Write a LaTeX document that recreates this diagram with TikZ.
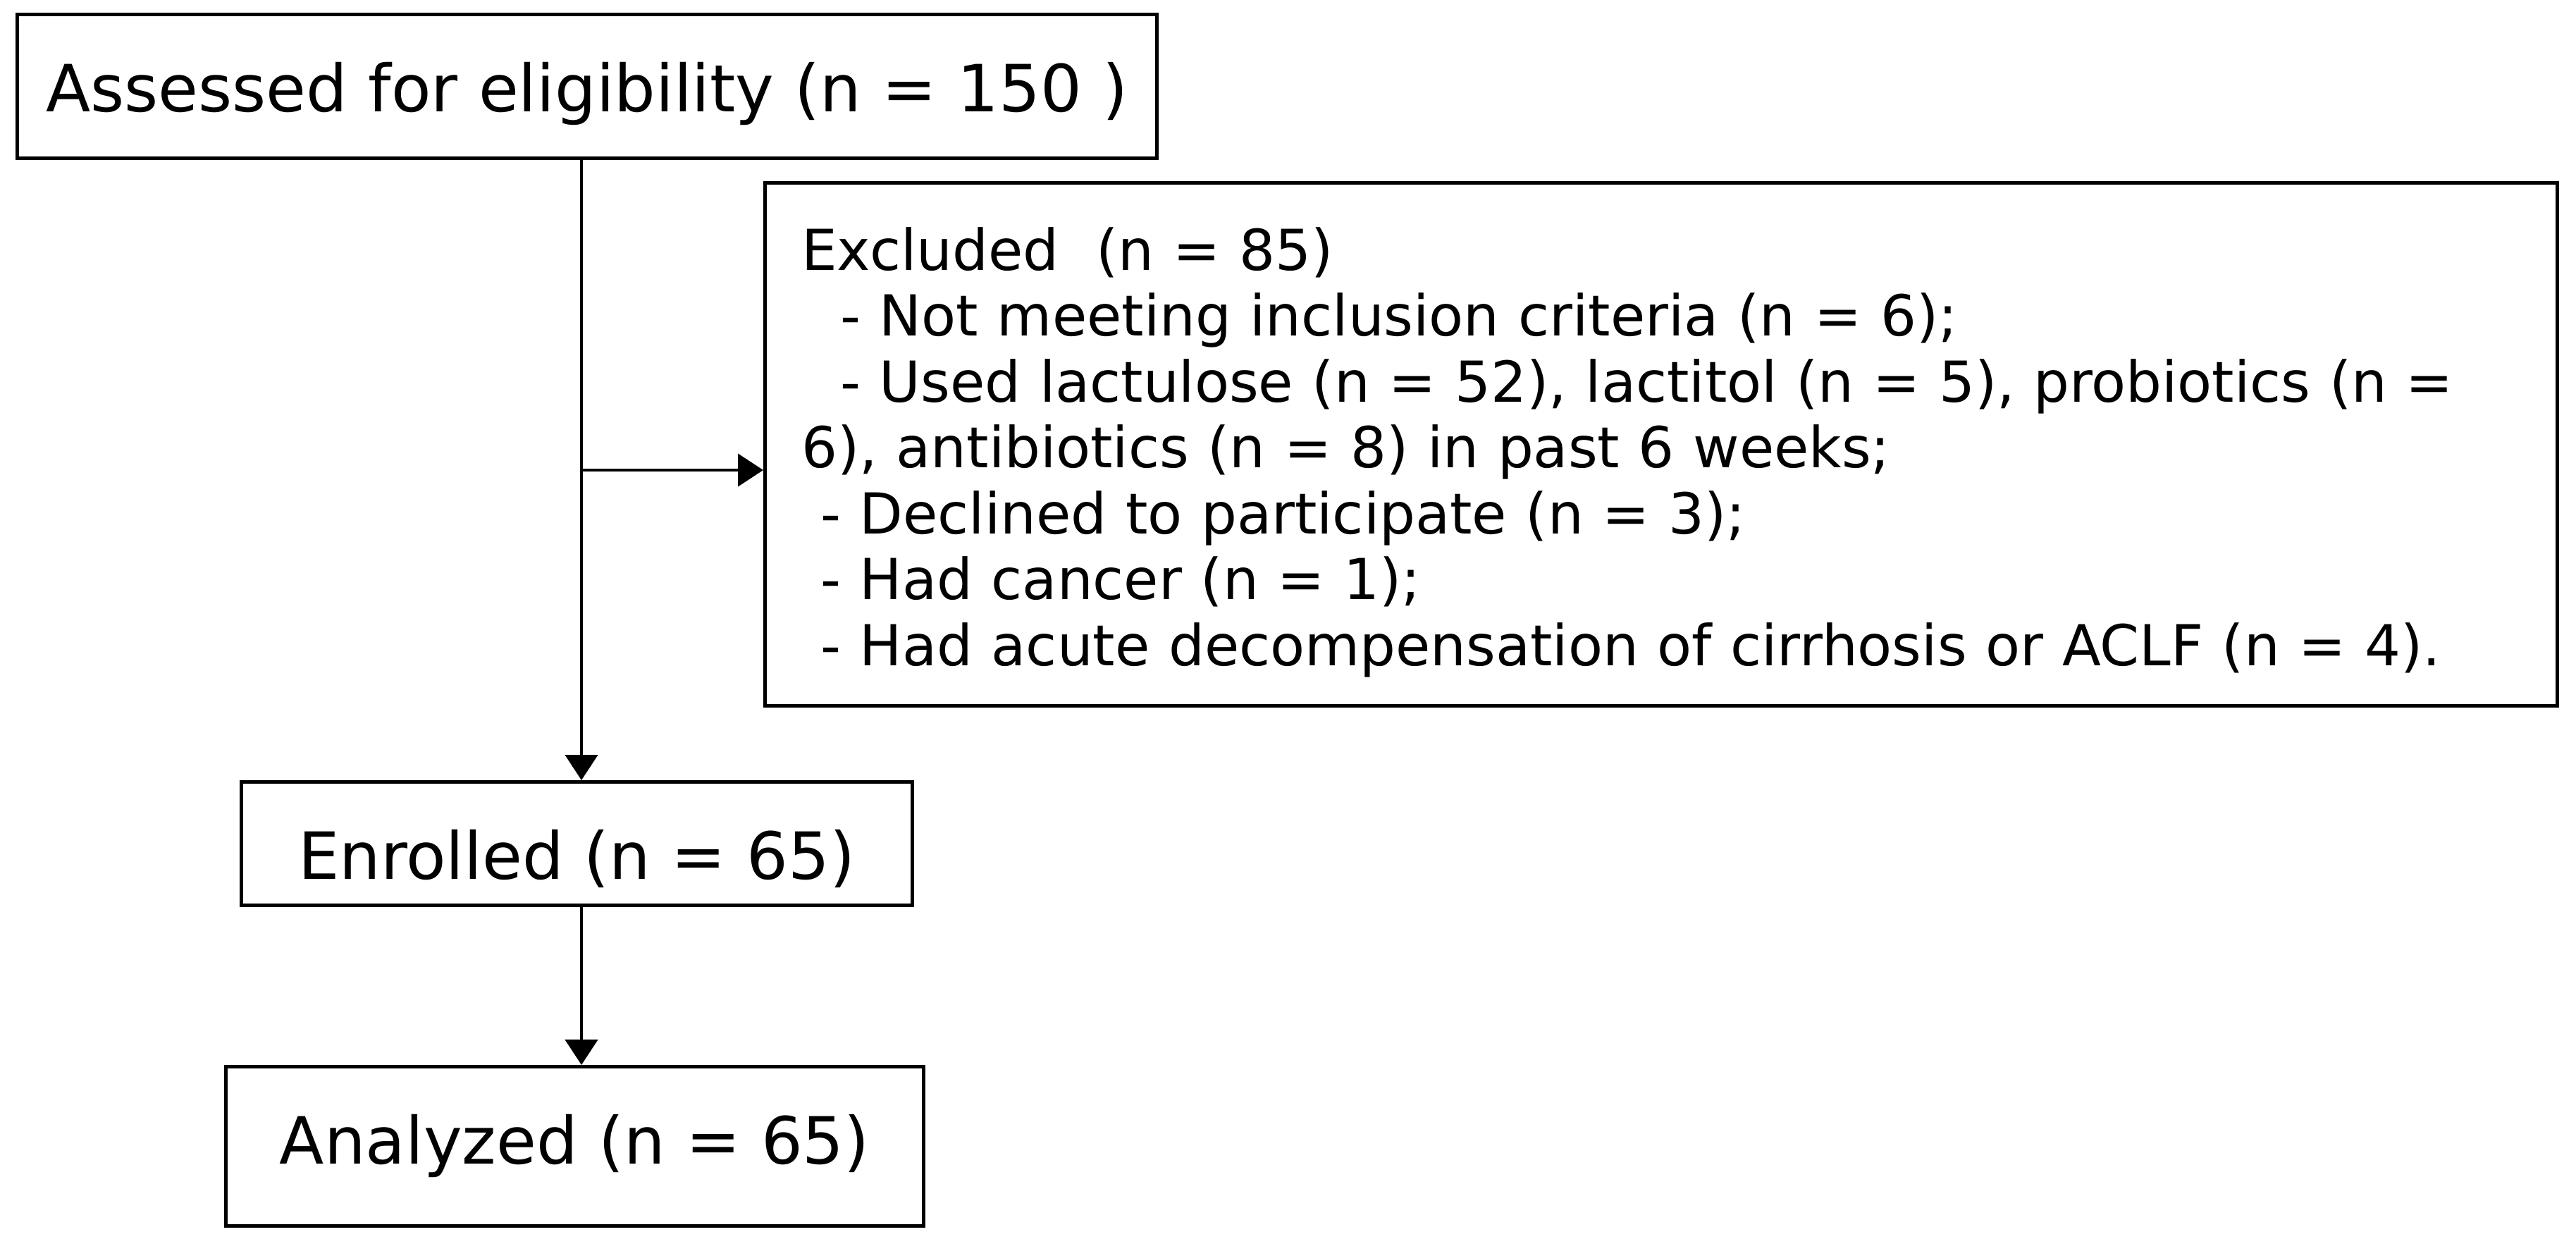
\documentclass[tikz,border=0pt]{standalone}
\usepackage{fontspec}
\setmainfont{DejaVu Sans}
\usepackage{tikz}
\usetikzlibrary{arrows.meta}
\newcommand{\boxfont}{\fontsize{26.3pt}{31pt}\selectfont}
\newcommand{\exfont}{\fontsize{22.8pt}{26.6pt}\selectfont}
\newcommand{\ind}{\hspace*{0.55cm}}

\begin{document}
\begin{tikzpicture}[line width=1.3pt,
		flownode/.style={rectangle,draw,inner xsep=0pt,inner ysep=0pt,text height=1.38cm,font=\boxfont,anchor=north west},
		exnode/.style={rectangle,draw,inner xsep=0.52cm,inner ysep=0pt,text width=24.39cm,align=left,font=\exfont,anchor=north west},
		arr/.style={-{Triangle[length=0.36cm,width=0.46cm]}}
		]
		\useasboundingbox (0,0) rectangle (36.55,-17.57);
		\node (a) [flownode,minimum width=16.17cm,text depth=0.66cm] at (0.22,-0.18) {Assessed for eligibility (n = 150 )};
		\node (b) [flownode,minimum width=9.52cm,text depth=0.37cm] at (3.40,-11.07) {Enrolled (n = 65)};
		\node (c) [flownode,minimum width=9.90cm,text depth=0.88cm] at (3.18,-15.11) {Analyzed (n = 65)};
		\node (e) [exnode] at (10.83,-2.57) {\raisebox{0pt}[1.24cm][0pt]{}Excluded\ \ (n = 85)\\
			\ind- Not meeting inclusion criteria (n = 6);\\
			\ind- Used lactulose (n = 52), lactitol (n = 5), probiotics (n =\\
			6), antibiotics (n = 8) in past 6 weeks;\\
			\hspace*{0.27cm}- Declined to participate (n = 3);\\
			\hspace*{0.27cm}- Had cancer (n = 1);\\
			\hspace*{0.27cm}- Had acute decompensation of cirrhosis or ACLF (n = 4).\rule[-0.57cm]{0pt}{0.1pt}};
		% trunk and branch
		\coordinate (j) at (8.25,-6.67);
		\draw[arr] (j |- a.south) -- (j |- b.north);
		\draw[arr] (j) -- (j -| e.west);
		\draw[arr] (j |- b.south) -- (j |- c.north);
\end{tikzpicture}
\end{document}
